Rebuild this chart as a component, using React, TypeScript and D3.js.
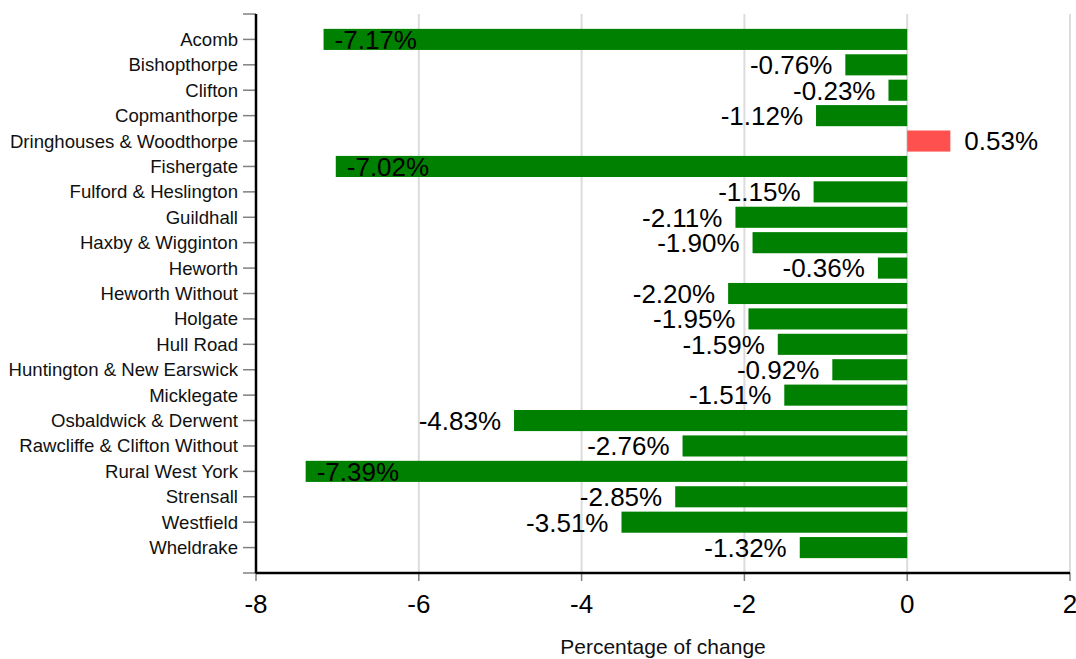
import React, { useEffect, useRef } from "react";
import * as d3 from "d3";

const categories = [
  "Acomb", "Bishopthorpe", "Clifton", "Copmanthorpe", "Dringhouses & Woodthorpe",
  "Fishergate", "Fulford & Heslington", "Guildhall", "Haxby & Wigginton", "Heworth",
  "Heworth Without", "Holgate", "Hull Road", "Huntington & New Earswick", "Micklegate",
  "Osbaldwick & Derwent", "Rawcliffe & Clifton Without", "Rural West York", "Strensall",
  "Westfield", "Wheldrake",
];
const values = [
  -7.17, -0.76, -0.23, -1.12, 0.53, -7.02, -1.15, -2.11, -1.9, -0.36, -2.2, -1.95, -1.59,
  -0.92, -1.51, -4.83, -2.76, -7.39, -2.85, -3.51, -1.32,
];
const xTicks = [-8, -6, -4, -2, 0, 2];
const xTitle = "Percentage of change";

const W = 1076, H = 659;
const FONT = "Arial, 'Liberation Sans', sans-serif";

export default function App() {
  const ref = useRef<SVGSVGElement>(null);
  useEffect(() => {
    const svg = d3.select(ref.current);
    svg.selectAll("*").remove();
    const left = 256, right = 1070, top = 14, bottom = 573;
    const x = d3.scaleLinear().domain([-8, 2]).range([left, right]);
    const y = d3.scaleLinear().domain([0, categories.length + 1]).range([top, bottom]);
    const step = y(1) - y(0);
    const bh = step * 0.83;

    // gridlines
    svg.append("g").selectAll("line").data(xTicks.filter(t => t !== -8)).join("line")
      .attr("x1", d => x(d)).attr("x2", d => x(d)).attr("y1", top).attr("y2", bottom)
      .attr("stroke", "#dcdcdc").attr("stroke-width", 2);

    // bars
    svg.append("g").selectAll("rect").data(values).join("rect")
      .attr("x", d => Math.min(x(d), x(0)))
      .attr("width", d => Math.abs(x(d) - x(0)))
      .attr("y", (d, i) => y(i + 1) - bh / 2)
      .attr("height", bh)
      .attr("fill", d => (d < 0 ? "#008000" : "#ff5050"));

    // y axis
    const ya = svg.append("g");
    ya.selectAll("line.tick").data(d3.range(0, categories.length + 2)).join("line")
      .attr("class", "tick")
      .attr("x1", left - 13).attr("x2", left).attr("y1", d => y(d)).attr("y2", d => y(d))
      .attr("stroke", "#808080").attr("stroke-width", 1.5);
    ya.selectAll("text").data(categories).join("text")
      .attr("x", left - 18).attr("y", (d, i) => y(i + 1)).attr("dy", "0.35em")
      .attr("text-anchor", "end").attr("font-family", FONT).attr("font-size", 18.6)
      .attr("fill", "#111").text(d => d);
    ya.append("line").attr("x1", left).attr("x2", left).attr("y1", top).attr("y2", bottom + 1)
      .attr("stroke", "#000").attr("stroke-width", 2.5);

    // x axis
    const xa = svg.append("g");
    xa.selectAll("line").data(xTicks).join("line")
      .attr("x1", d => x(d)).attr("x2", d => x(d)).attr("y1", bottom).attr("y2", bottom + 8)
      .attr("stroke", "#808080").attr("stroke-width", 1.5);
    xa.selectAll("text").data(xTicks).join("text")
      .attr("x", d => x(d)).attr("y", 613).attr("text-anchor", "middle")
      .attr("font-family", FONT).attr("font-size", 26).attr("fill", "#000").text(d => String(d));
    xa.append("line").attr("x1", left).attr("x2", right).attr("y1", bottom).attr("y2", bottom)
      .attr("stroke", "#000").attr("stroke-width", 2.5);
    svg.append("text").attr("x", 663).attr("y", 654).attr("text-anchor", "middle")
      .attr("font-family", FONT).attr("font-size", 21).attr("fill", "#111").text(xTitle);

    // value labels
    const lg = svg.append("g");
    values.forEach((v, i) => {
      const t = lg.append("text")
        .attr("y", y(i + 1)).attr("dy", "0.36em")
        .attr("font-family", FONT).attr("font-size", 26).attr("fill", "#000")
        .text(`${v.toFixed(2)}%`);
      const w = (t.node() as SVGTextElement).getComputedTextLength();
      const end = x(v);
      if (v >= 0) {
        t.attr("x", end + 14);
      } else if (end - 13 - w < left) {
        t.attr("x", end + 11);
      } else {
        t.attr("x", end - 13 - w);
      }
    });
  }, []);
  return (
    <svg ref={ref} width={W} height={H}
      style={{ position: "absolute", left: 0, top: 0, background: "#fff" }} />
  );
}
